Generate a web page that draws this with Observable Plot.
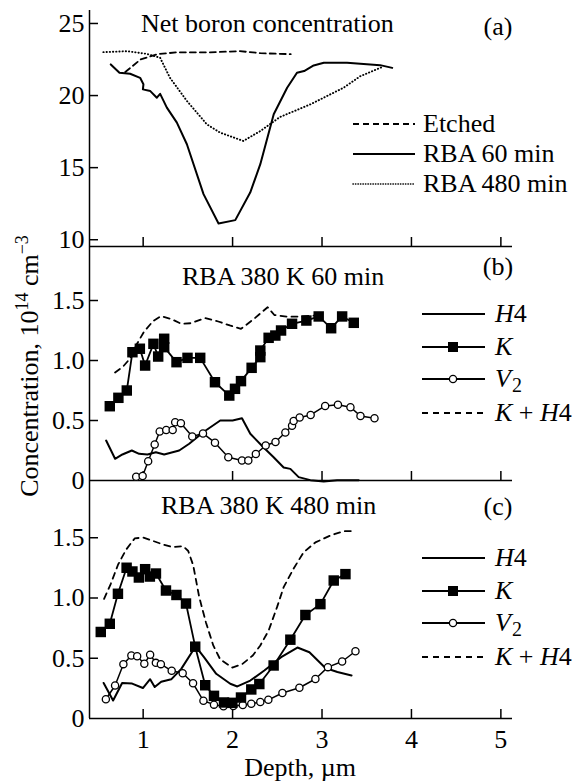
<!DOCTYPE html>
<html><head><meta charset="utf-8">
<script src="https://cdn.jsdelivr.net/npm/d3@7"></script>
<script src="https://cdn.jsdelivr.net/npm/@observablehq/plot@0.6"></script>
<style>
body{margin:0;background:#fff;}
#chart{position:relative;width:579px;height:783px;font-family:"Liberation Serif",serif;}
#chart svg{position:absolute;left:0;overflow:visible;}
</style></head><body><div id="chart"></div>
<script>
// ---- ticks ----
const xTicks = [1, 2, 3, 4, 5];
const yTicksA = [10, 15, 20, 25];
const yTicksBC = [0, 0.5, 1.0, 1.5];

// ---- panel (a): Net boron concentration ----
const aEtchedDepth = [0.80, 0.97, 1.16, 1.38, 1.75, 2.08, 2.31, 2.65];
const aEtchedConc  = [21.63, 22.5, 22.87, 23.0, 23.0, 23.08, 22.94, 22.87];
const a60Depth = [0.638, 0.735, 0.854, 0.966, 1.003, 0.997, 1.08, 1.153, 1.19, 1.265, 1.377, 1.489, 1.675, 1.843, 2.03, 2.197, 2.31, 2.46, 2.61, 2.72, 2.80, 2.907, 3.02, 3.28, 3.65, 3.785];
const a60Conc  = [22.16, 21.58, 21.51, 21.23, 20.78, 20.43, 20.31, 19.85, 20.12, 19.16, 18.12, 16.62, 13.16, 11.13, 11.36, 13.27, 15.24, 18.70, 20.54, 21.58, 21.70, 22.09, 22.27, 22.27, 22.11, 21.92];
const a480Depth = [0.555, 0.817, 1.04, 1.19, 1.30, 1.49, 1.713, 1.86, 2.12, 2.31, 2.53, 2.87, 3.24, 3.43, 3.67];
const a480Conc  = [23.01, 23.08, 22.89, 22.62, 21.23, 19.62, 18.0, 17.43, 16.85, 17.54, 18.51, 19.39, 20.54, 21.35, 21.97];

// ---- panel (b): RBA 380 K 60 min ----
const bKDepth = [0.627, 0.723, 0.817, 0.88, 0.963, 1.022, 1.115, 1.168, 1.235, 1.235, 1.373, 1.496, 1.638, 1.803, 1.963, 2.027, 2.094, 2.213, 2.31, 2.31, 2.403, 2.478, 2.542, 2.665, 2.825, 2.963, 3.102, 3.225, 3.355];
const bKConc  = [0.619, 0.689, 0.75, 1.069, 1.098, 0.958, 1.139, 1.033, 1.181, 1.111, 0.986, 1.022, 1.022, 0.819, 0.708, 0.764, 0.828, 0.939, 1.028, 1.083, 1.189, 1.208, 1.25, 1.306, 1.333, 1.367, 1.269, 1.367, 1.314];
const bH4Depth = [0.586, 0.686, 0.768, 0.873, 0.955, 1.048, 1.142, 1.235, 1.403, 1.515, 1.683, 1.862, 2.0, 2.105, 2.198, 2.347, 2.459, 2.571, 2.646, 2.739, 2.87, 3.019, 3.169, 3.41];
const bH4Conc  = [0.333, 0.181, 0.217, 0.25, 0.222, 0.217, 0.236, 0.217, 0.25, 0.306, 0.408, 0.5, 0.5, 0.519, 0.389, 0.275, 0.194, 0.108, 0.097, 0.028, 0.003, -0.008, 0.003, 0.003];
const bV2Depth = [0.922, 0.994, 1.056, 1.129, 1.185, 1.258, 1.33, 1.358, 1.422, 1.549, 1.669, 1.803, 1.952, 2.105, 2.176, 2.26, 2.37, 2.48, 2.59, 2.665, 2.683, 2.75, 2.873, 3.035, 3.178, 3.318, 3.43, 3.587];
const bV2Conc  = [0.031, 0.038, 0.161, 0.30, 0.408, 0.421, 0.421, 0.486, 0.478, 0.367, 0.392, 0.315, 0.194, 0.167, 0.167, 0.221, 0.292, 0.321, 0.40, 0.456, 0.496, 0.525, 0.546, 0.621, 0.631, 0.611, 0.537, 0.519];
const bSumDepth = [0.686, 0.776, 0.854, 0.927, 1.011, 1.112, 1.198, 1.31, 1.426, 1.537, 1.689, 1.84, 1.969, 2.094, 2.232, 2.392, 2.467, 2.618, 2.758, 2.945];
const bSumConc  = [0.90, 0.95, 1.017, 1.133, 1.242, 1.329, 1.369, 1.347, 1.306, 1.311, 1.354, 1.325, 1.292, 1.264, 1.342, 1.444, 1.379, 1.364, 1.367, 1.375];

// ---- panel (c): RBA 380 K 480 min ----
const cKDepth = [0.526, 0.627, 0.718, 0.815, 0.880, 0.952, 1.022, 1.075, 1.143, 1.255, 1.372, 1.479, 1.582, 1.694, 1.792, 1.904, 1.997, 2.094, 2.209, 2.299, 2.459, 2.646, 2.814, 2.982, 3.131, 3.262];
const cKConc  = [0.718, 0.786, 1.035, 1.251, 1.220, 1.170, 1.239, 1.178, 1.203, 1.062, 1.025, 0.954, 0.596, 0.276, 0.188, 0.133, 0.130, 0.174, 0.241, 0.286, 0.44, 0.654, 0.859, 0.949, 1.145, 1.198];
const cH4Depth = [0.558, 0.664, 0.765, 0.877, 0.997, 1.078, 1.129, 1.202, 1.314, 1.426, 1.586, 1.68, 1.817, 1.974, 2.053, 2.198, 2.355, 2.543, 2.725, 2.859, 3.038, 3.172, 3.33];
const cH4Conc  = [0.295, 0.149, 0.295, 0.29, 0.253, 0.326, 0.261, 0.305, 0.325, 0.412, 0.598, 0.509, 0.371, 0.288, 0.266, 0.315, 0.398, 0.509, 0.589, 0.55, 0.419, 0.386, 0.357];
const cV2Depth = [0.583, 0.686, 0.779, 0.868, 0.933, 1.013, 1.078, 1.142, 1.198, 1.319, 1.442, 1.558, 1.674, 1.792, 1.898, 2.008, 2.114, 2.209, 2.31, 2.40, 2.557, 2.747, 2.926, 3.066, 3.225, 3.374];
const cV2Conc  = [0.16, 0.274, 0.451, 0.523, 0.516, 0.454, 0.529, 0.462, 0.451, 0.396, 0.376, 0.292, 0.147, 0.115, 0.102, 0.104, 0.112, 0.123, 0.137, 0.155, 0.212, 0.255, 0.328, 0.426, 0.473, 0.558];
const cSumDepth = [0.563, 0.638, 0.72, 0.81, 0.905, 1.0, 1.112, 1.224, 1.328, 1.448, 1.504, 1.56, 1.627, 1.702, 1.784, 1.862, 1.997, 2.109, 2.226, 2.31, 2.403, 2.497, 2.571, 2.683, 2.795, 2.926, 3.094, 3.243, 3.355];
const cSumConc  = [0.993, 1.118, 1.278, 1.402, 1.494, 1.502, 1.473, 1.444, 1.422, 1.429, 1.39, 1.27, 1.007, 0.797, 0.606, 0.49, 0.423, 0.452, 0.523, 0.606, 0.73, 0.924, 1.09, 1.245, 1.38, 1.461, 1.519, 1.554, 1.556];

// ---- texts ----
const titleA = "Net boron concentration", titleB = "RBA 380 K 60 min", titleC = "RBA 380 K 480 min";
const panelTags = ["(a)", "(b)", "(c)"];
const legendA = ["Etched", "RBA 60 min", "RBA 480 min"];
const xLabel = "Depth, \u00b5m";

const zip = (xs, ys) => xs.map((x, i) => ({x, y: ys[i]}));
const FONT = "Liberation Serif, Times New Roman, serif";
const FS = 26;
const xDomain = [0.4, 5.13];
const ML = 89, MR = 67, W = 579;
const fw = W - ML - MR;
const chart = document.getElementById("chart");

const fmt = d => d === 0 ? "0" : (d < 5 ? d.toFixed(1) : String(d));

function panel({top, height, mt, mb, yDomain, yTicks, yTickMarks, series, xLabels}) {
  const fh = height - mt - mb;
  const marks = [
    Plot.ruleX([xDomain[0]], {strokeWidth: 1.5}),
    Plot.ruleY([yDomain[0]], {strokeWidth: 1.5}),
    Plot.tickX(xTicks, {x: d => d, insetTop: fh - 9, strokeWidth: 1.5}),
    Plot.tickY(yTickMarks, {y: d => d, insetRight: fw - 9, strokeWidth: 1.5}),
    Plot.axisY(yTicks, {tickSize: 0, tickPadding: 5, tickFormat: fmt, fontSize: FS, label: null}),
    ...series
  ];
  if (xLabels) marks.push(Plot.axisX(xTicks, {tickSize: 0, tickPadding: 11, fontSize: FS, label: null}));
  const p = Plot.plot({
    width: W, height, marginLeft: ML, marginRight: MR, marginTop: mt, marginBottom: mb,
    x: {domain: xDomain, ...(xLabels ? {} : {axis: null})},
    y: {domain: yDomain},
    style: {background: "transparent", overflow: "visible", fontFamily: FONT, fontSize: FS + "px", color: "black"},
    marks
  });
  p.style.top = top + "px";
  p.style.position = "absolute";
  chart.appendChild(p);
}

const lineW = 2;
const DOT = "0.3,2.9";
// Panel a
panel({top: 0, height: 256, mt: 10, mb: 10, yDomain: [9.53, 25.9], yTicks: yTicksA, yTickMarks: yTicksA,
  series: [
    Plot.line(zip(aEtchedDepth, aEtchedConc), {x: "x", y: "y", stroke: "black", strokeWidth: 1.8, strokeDasharray: "6,4"}),
    Plot.line(zip(a60Depth, a60Conc), {x: "x", y: "y", stroke: "black", strokeWidth: lineW}),
    Plot.line(zip(a480Depth, a480Conc), {x: "x", y: "y", stroke: "black", strokeWidth: 1.9, strokeDasharray: DOT, strokeLinecap: "round"})
  ]});

function concSeries(kx, ky, hx, hy, vx, vy, sx, sy) {
  return [
    Plot.line(zip(sx, sy), {x: "x", y: "y", stroke: "black", strokeWidth: 1.8, strokeDasharray: "6,5"}),
    Plot.line(zip(hx, hy), {x: "x", y: "y", stroke: "black", strokeWidth: lineW}),
    Plot.line(zip(vx, vy), {x: "x", y: "y", stroke: "black", strokeWidth: 1.5}),
    Plot.line(zip(kx, ky), {x: "x", y: "y", stroke: "black", strokeWidth: 1.8}),
    Plot.dot(zip(vx, vy), {x: "x", y: "y", r: 3.6, fill: "white", stroke: "black", strokeWidth: 1.3}),
    Plot.dot(zip(kx, ky), {x: "x", y: "y", symbol: "square", r: 5.9, fill: "black", stroke: "none"})
  ];
}
// Panel b
panel({top: 236, height: 254, mt: 10, mb: 10, yDomain: [0, 1.95], yTicks: yTicksBC, yTickMarks: [0.5, 1.0, 1.5],
  series: concSeries(bKDepth, bKConc, bH4Depth, bH4Conc, bV2Depth, bV2Conc, bSumDepth, bSumConc)});
// Panel c
panel({top: 470, height: 313, mt: 10, mb: 65, yDomain: [0, 1.975], yTicks: yTicksBC, yTickMarks: [0.5, 1.0, 1.5],
  series: concSeries(cKDepth, cKConc, cH4Depth, cH4Conc, cV2Depth, cV2Conc, cSumDepth, cSumConc), xLabels: true});

// ---- overlay: titles, tags, legends, axis labels ----
const ov = d3.select(chart).append("svg").attr("width", W).attr("height", 783).style("top", "0px")
  .attr("font-family", FONT).attr("font-size", FS).attr("fill", "black");

ov.append("text").attr("x", 141).attr("y", 32).text(titleA);
ov.append("text").attr("x", 182).attr("y", 285).text(titleB);
ov.append("text").attr("x", 161).attr("y", 514).text(titleC);
[35, 275, 515].forEach((y, i) => ov.append("text").attr("x", 498).attr("y", y).attr("text-anchor", "middle").text(panelTags[i]));

// legend a
const la = [{y: 124, dash: "6,4", sw: 1.8, cap: null}, {y: 154, dash: null, sw: 2, cap: null}, {y: 184, dash: "0.3,2.2", sw: 1.6, cap: "round"}];
la.forEach((d, i) => {
  ov.append("line").attr("x1", 353).attr("x2", 415).attr("y1", d.y).attr("y2", d.y)
    .attr("stroke", "black").attr("stroke-width", d.sw).attr("stroke-dasharray", d.dash).attr("stroke-linecap", d.cap);
  ov.append("text").attr("x", 423).attr("y", d.y + 8).text(legendA[i]);
});

function concLegend(y0) {
  const ys = [y0, y0 + 33, y0 + 65, y0 + 99];
  const kinds = ["H4", "K", "V2", "K+H4"];
  ys.forEach((y, i) => {
    const k = kinds[i];
    ov.append("line").attr("x1", 422).attr("x2", 485).attr("y1", y).attr("y2", y)
      .attr("stroke", "black").attr("stroke-width", 1.8)
      .attr("stroke-dasharray", k === "K+H4" ? "6,5" : null);
    if (k === "K") ov.append("rect").attr("x", 448).attr("y", y - 5).attr("width", 10).attr("height", 10).attr("fill", "black");
    if (k === "V2") ov.append("circle").attr("cx", 453).attr("cy", y).attr("r", 3.6).attr("fill", "white").attr("stroke", "black").attr("stroke-width", 1.3);
    if (k === "V2") {
      const g = ov.append("g");
      g.append("text").attr("x", 495).attr("y", y + 8).attr("font-style", "italic").text("V");
      g.append("text").attr("x", 512).attr("y", y + 13).attr("font-size", 20).text("2");
      return;
    }
    const t = ov.append("text").attr("x", 495).attr("y", y + 8);
    if (k === "H4") { t.append("tspan").attr("font-style", "italic").text("H"); t.append("tspan").text("4"); }
    if (k === "K") { t.append("tspan").attr("font-style", "italic").text("K"); }
    if (k === "K+H4") { t.append("tspan").attr("font-style", "italic").text("K"); t.append("tspan").text(" + "); t.append("tspan").attr("font-style", "italic").text("H"); t.append("tspan").text("4"); }
  });
}
concLegend(314);
concLegend(558);

// axis labels
ov.append("text").attr("x", 300).attr("y", 776).attr("text-anchor", "middle").text(xLabel);
const yl = ov.append("text").attr("transform", "translate(38,366) rotate(-90)").attr("text-anchor", "middle");
yl.append("tspan").text("Concentration, 10");
yl.append("tspan").attr("dy", -10).attr("font-size", 18).text("14");
yl.append("tspan").attr("dy", 10).text(" cm");
yl.append("tspan").attr("dy", -10).attr("font-size", 18).text("\u22123");
</script>
</body></html>
